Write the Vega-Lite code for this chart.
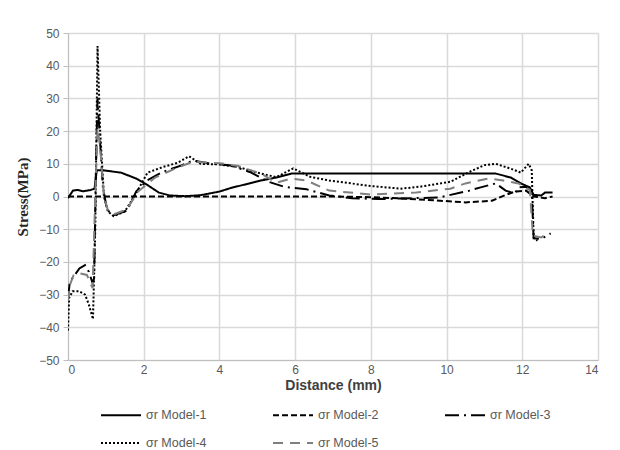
{
  "$schema": "https://vega.github.io/schema/vega-lite/v6.json",
  "width": 530,
  "height": 327,
  "autosize": "none",
  "padding": {"left": 68, "top": 33, "right": 22, "bottom": 90},
  "background": "white",
  "config": {
    "view": {"stroke": null},
    "font": "Liberation Sans"
  },
  "data": {
    "values": [
      {"model": "σr Model-1", "x": 0, "y": -0.5},
      {"model": "σr Model-1", "x": 0.13, "y": 1.8},
      {"model": "σr Model-1", "x": 0.25, "y": 2},
      {"model": "σr Model-1", "x": 0.4, "y": 1.6},
      {"model": "σr Model-1", "x": 0.6, "y": 2},
      {"model": "σr Model-1", "x": 0.7, "y": 2.4},
      {"model": "σr Model-1", "x": 0.76, "y": 8},
      {"model": "σr Model-1", "x": 0.93, "y": 8},
      {"model": "σr Model-1", "x": 1.4, "y": 7.3},
      {"model": "σr Model-1", "x": 1.8, "y": 5.5},
      {"model": "σr Model-1", "x": 2.1, "y": 3.5},
      {"model": "σr Model-1", "x": 2.4, "y": 1.2},
      {"model": "σr Model-1", "x": 2.7, "y": 0.3},
      {"model": "σr Model-1", "x": 3.1, "y": 0.1},
      {"model": "σr Model-1", "x": 3.5, "y": 0.4},
      {"model": "σr Model-1", "x": 4, "y": 1.5},
      {"model": "σr Model-1", "x": 4.3, "y": 2.6},
      {"model": "σr Model-1", "x": 5.1, "y": 4.9},
      {"model": "σr Model-1", "x": 5.5, "y": 5.8},
      {"model": "σr Model-1", "x": 5.9, "y": 7},
      {"model": "σr Model-1", "x": 7, "y": 7},
      {"model": "σr Model-1", "x": 8, "y": 7},
      {"model": "σr Model-1", "x": 9, "y": 7},
      {"model": "σr Model-1", "x": 10, "y": 7},
      {"model": "σr Model-1", "x": 11.3, "y": 7},
      {"model": "σr Model-1", "x": 11.7, "y": 5.8},
      {"model": "σr Model-1", "x": 12, "y": 3.8},
      {"model": "σr Model-1", "x": 12.2, "y": 2.8},
      {"model": "σr Model-1", "x": 12.3, "y": 0.5},
      {"model": "σr Model-1", "x": 12.5, "y": 0.3},
      {"model": "σr Model-1", "x": 12.6, "y": 1.2},
      {"model": "σr Model-1", "x": 12.8, "y": 1.2},

      {"model": "σr Model-2", "x": 0, "y": 0},
      {"model": "σr Model-2", "x": 2, "y": 0},
      {"model": "σr Model-2", "x": 4, "y": 0},
      {"model": "σr Model-2", "x": 6, "y": 0},
      {"model": "σr Model-2", "x": 7, "y": 0},
      {"model": "σr Model-2", "x": 8, "y": -0.2},
      {"model": "σr Model-2", "x": 8.8, "y": -0.6},
      {"model": "σr Model-2", "x": 9.7, "y": -1.2},
      {"model": "σr Model-2", "x": 10.5, "y": -1.8},
      {"model": "σr Model-2", "x": 11.2, "y": -1.3},
      {"model": "σr Model-2", "x": 11.5, "y": 0.2},
      {"model": "σr Model-2", "x": 11.8, "y": 1.5},
      {"model": "σr Model-2", "x": 12.1, "y": 1.8},
      {"model": "σr Model-2", "x": 12.3, "y": 0},
      {"model": "σr Model-2", "x": 12.6, "y": -0.5},
      {"model": "σr Model-2", "x": 12.8, "y": 0},

      {"model": "σr Model-3", "x": 0, "y": -31},
      {"model": "σr Model-3", "x": 0.05, "y": -26},
      {"model": "σr Model-3", "x": 0.12, "y": -25},
      {"model": "σr Model-3", "x": 0.3, "y": -22},
      {"model": "σr Model-3", "x": 0.45, "y": -21},
      {"model": "σr Model-3", "x": 0.55, "y": -23},
      {"model": "σr Model-3", "x": 0.65, "y": -26.5},
      {"model": "σr Model-3", "x": 0.69, "y": -25},
      {"model": "σr Model-3", "x": 0.74, "y": 10},
      {"model": "σr Model-3", "x": 0.78, "y": 30},
      {"model": "σr Model-3", "x": 0.83, "y": 20},
      {"model": "σr Model-3", "x": 0.92, "y": 3},
      {"model": "σr Model-3", "x": 1.03, "y": -4},
      {"model": "σr Model-3", "x": 1.2, "y": -5.8},
      {"model": "σr Model-3", "x": 1.56, "y": -4.3},
      {"model": "σr Model-3", "x": 1.8, "y": 1.5},
      {"model": "σr Model-3", "x": 2.1, "y": 5},
      {"model": "σr Model-3", "x": 2.5, "y": 7.5},
      {"model": "σr Model-3", "x": 3, "y": 9.5},
      {"model": "σr Model-3", "x": 3.3, "y": 11},
      {"model": "σr Model-3", "x": 3.7, "y": 10.2},
      {"model": "σr Model-3", "x": 4.3, "y": 9.5},
      {"model": "σr Model-3", "x": 4.8, "y": 7.5},
      {"model": "σr Model-3", "x": 5.3, "y": 4.5},
      {"model": "σr Model-3", "x": 5.7, "y": 3},
      {"model": "σr Model-3", "x": 6.3, "y": 2.2},
      {"model": "σr Model-3", "x": 6.9, "y": 0.3},
      {"model": "σr Model-3", "x": 7.5, "y": -0.5},
      {"model": "σr Model-3", "x": 8.2, "y": -0.8},
      {"model": "σr Model-3", "x": 8.8, "y": -0.6},
      {"model": "σr Model-3", "x": 9.8, "y": -0.3},
      {"model": "σr Model-3", "x": 10.6, "y": 1.8},
      {"model": "σr Model-3", "x": 10.9, "y": 2.8},
      {"model": "σr Model-3", "x": 11.3, "y": 4},
      {"model": "σr Model-3", "x": 11.56, "y": 1.8},
      {"model": "σr Model-3", "x": 11.8, "y": 0.9},
      {"model": "σr Model-3", "x": 11.9, "y": 2.8},
      {"model": "σr Model-3", "x": 12.1, "y": 3},
      {"model": "σr Model-3", "x": 12.25, "y": 1.5},
      {"model": "σr Model-3", "x": 12.3, "y": -12.8},
      {"model": "σr Model-3", "x": 12.5, "y": -13},
      {"model": "σr Model-3", "x": 12.75, "y": -11.3},

      {"model": "σr Model-4", "x": 0, "y": -41},
      {"model": "σr Model-4", "x": 0.03, "y": -31},
      {"model": "σr Model-4", "x": 0.12, "y": -29},
      {"model": "σr Model-4", "x": 0.3, "y": -29},
      {"model": "σr Model-4", "x": 0.45, "y": -30},
      {"model": "σr Model-4", "x": 0.55, "y": -33},
      {"model": "σr Model-4", "x": 0.66, "y": -37.5},
      {"model": "σr Model-4", "x": 0.72, "y": -10},
      {"model": "σr Model-4", "x": 0.78, "y": 46},
      {"model": "σr Model-4", "x": 0.85, "y": 20},
      {"model": "σr Model-4", "x": 0.95, "y": 0},
      {"model": "σr Model-4", "x": 1.05, "y": -4.5},
      {"model": "σr Model-4", "x": 1.2, "y": -6},
      {"model": "σr Model-4", "x": 1.5, "y": -4.6},
      {"model": "σr Model-4", "x": 1.8, "y": 1},
      {"model": "σr Model-4", "x": 2.1, "y": 7.3},
      {"model": "σr Model-4", "x": 2.5, "y": 9},
      {"model": "σr Model-4", "x": 2.9, "y": 10.3},
      {"model": "σr Model-4", "x": 3.2, "y": 12.3},
      {"model": "σr Model-4", "x": 3.5, "y": 10},
      {"model": "σr Model-4", "x": 4, "y": 9.8},
      {"model": "σr Model-4", "x": 4.5, "y": 9},
      {"model": "σr Model-4", "x": 5, "y": 7.3},
      {"model": "σr Model-4", "x": 5.5, "y": 5.9},
      {"model": "σr Model-4", "x": 5.95, "y": 8.6},
      {"model": "σr Model-4", "x": 6.4, "y": 6},
      {"model": "σr Model-4", "x": 6.9, "y": 4.9},
      {"model": "σr Model-4", "x": 8, "y": 3.2},
      {"model": "σr Model-4", "x": 8.8, "y": 2.4},
      {"model": "σr Model-4", "x": 9.3, "y": 3},
      {"model": "σr Model-4", "x": 10.1, "y": 4.5},
      {"model": "σr Model-4", "x": 10.6, "y": 7.5},
      {"model": "σr Model-4", "x": 11, "y": 9.6},
      {"model": "σr Model-4", "x": 11.3, "y": 10},
      {"model": "σr Model-4", "x": 11.7, "y": 8.5},
      {"model": "σr Model-4", "x": 11.96, "y": 7.3},
      {"model": "σr Model-4", "x": 12.17, "y": 10},
      {"model": "σr Model-4", "x": 12.25, "y": 8},
      {"model": "σr Model-4", "x": 12.3, "y": -12.5},
      {"model": "σr Model-4", "x": 12.4, "y": -13.5},

      {"model": "σr Model-5", "x": 0, "y": -32},
      {"model": "σr Model-5", "x": 0.05, "y": -27},
      {"model": "σr Model-5", "x": 0.15, "y": -24},
      {"model": "σr Model-5", "x": 0.3, "y": -23.5},
      {"model": "σr Model-5", "x": 0.5, "y": -24},
      {"model": "σr Model-5", "x": 0.65, "y": -28},
      {"model": "σr Model-5", "x": 0.72, "y": 0},
      {"model": "σr Model-5", "x": 0.78, "y": 21},
      {"model": "σr Model-5", "x": 0.85, "y": 15},
      {"model": "σr Model-5", "x": 0.95, "y": 0},
      {"model": "σr Model-5", "x": 1.05, "y": -4},
      {"model": "σr Model-5", "x": 1.2, "y": -5.5},
      {"model": "σr Model-5", "x": 1.55, "y": -4},
      {"model": "σr Model-5", "x": 1.85, "y": 1.5},
      {"model": "σr Model-5", "x": 2.3, "y": 5.8},
      {"model": "σr Model-5", "x": 2.9, "y": 8.9},
      {"model": "σr Model-5", "x": 3.3, "y": 10.6},
      {"model": "σr Model-5", "x": 4, "y": 10.2},
      {"model": "σr Model-5", "x": 4.5, "y": 9.3},
      {"model": "σr Model-5", "x": 5.1, "y": 7},
      {"model": "σr Model-5", "x": 5.5, "y": 4.2},
      {"model": "σr Model-5", "x": 5.9, "y": 5.5},
      {"model": "σr Model-5", "x": 6.3, "y": 4.9},
      {"model": "σr Model-5", "x": 6.9, "y": 1.8},
      {"model": "σr Model-5", "x": 8, "y": 0.6},
      {"model": "σr Model-5", "x": 9.2, "y": 1.2},
      {"model": "σr Model-5", "x": 10.1, "y": 2.4},
      {"model": "σr Model-5", "x": 10.5, "y": 4},
      {"model": "σr Model-5", "x": 11.1, "y": 5.5},
      {"model": "σr Model-5", "x": 11.5, "y": 4.9},
      {"model": "σr Model-5", "x": 11.9, "y": 4},
      {"model": "σr Model-5", "x": 12.2, "y": 2},
      {"model": "σr Model-5", "x": 12.28, "y": -12},
      {"model": "σr Model-5", "x": 12.5, "y": -12.5},
      {"model": "σr Model-5", "x": 12.7, "y": -11}
    ]
  },
  "mark": {"type": "line", "strokeWidth": 2, "clip": true},
  "encoding": {
    "x": {
      "field": "x",
      "type": "quantitative",
      "scale": {"domain": [0, 14], "nice": false},
      "axis": {
        "title": "Distance (mm)",
        "values": [0, 2, 4, 6, 8, 10, 12, 14],
        "grid": true,
        "gridColor": "#d9d9d9",
        "gridWidth": 1.5,
        "domainColor": "#bfbfbf",
        "ticks": false,
        "labelFontSize": 12,
        "labelColor": "#595959",
        "labelPadding": 4,
        "titleFontSize": 14,
        "titleFontWeight": "bold",
        "titleColor": "#404040",
        "titlePadding": 3
      }
    },
    "y": {
      "field": "y",
      "type": "quantitative",
      "scale": {"domain": [-50, 50], "nice": false},
      "axis": {
        "title": "Stress(MPa)",
        "values": [-50, -40, -30, -20, -10, 0, 10, 20, 30, 40, 50],
        "grid": true,
        "gridColor": "#d9d9d9",
        "gridWidth": 1.5,
        "domainColor": "#bfbfbf",
        "tickColor": "#bfbfbf",
        "tickSize": 5,
        "labelFontSize": 12,
        "labelColor": "#595959",
        "labelPadding": 4,
        "titleFont": "Liberation Serif",
        "titleFontSize": 15,
        "titleFontWeight": "bold",
        "titleColor": "#262626",
        "titlePadding": 8
      }
    },
    "color": {
      "field": "model",
      "type": "nominal",
      "scale": {
        "domain": ["σr Model-1", "σr Model-2", "σr Model-3", "σr Model-4", "σr Model-5"],
        "range": ["#000000", "#000000", "#000000", "#000000", "#7f7f7f"]
      },
      "legend": {
        "title": null,
        "orient": "none",
        "legendX": 32,
        "legendY": 361,
        "direction": "horizontal",
        "columns": 3,
        "columnPadding": 62,
        "rowPadding": -13,
        "symbolType": "stroke",
        "symbolSize": 1600,
        "symbolStrokeWidth": 2,
        "labelFontSize": 12.5,
        "labelColor": "#595959",
        "labelLimit": 200,
        "gridAlign": "all"
      }
    },
    "strokeDash": {
      "field": "model",
      "type": "nominal",
      "scale": {
        "domain": ["σr Model-1", "σr Model-2", "σr Model-3", "σr Model-4", "σr Model-5"],
        "range": [[1, 0], [6, 3], [14, 5, 2, 5], [2, 2], [10, 7]]
      },
      "legend": {
        "title": null,
        "orient": "none",
        "legendX": 32,
        "legendY": 361,
        "direction": "horizontal",
        "columns": 3,
        "columnPadding": 62,
        "rowPadding": -13,
        "symbolType": "stroke",
        "symbolSize": 1600,
        "symbolStrokeWidth": 2,
        "labelFontSize": 12.5,
        "labelColor": "#595959",
        "labelLimit": 200,
        "gridAlign": "all"
      }
    }
  }
}
